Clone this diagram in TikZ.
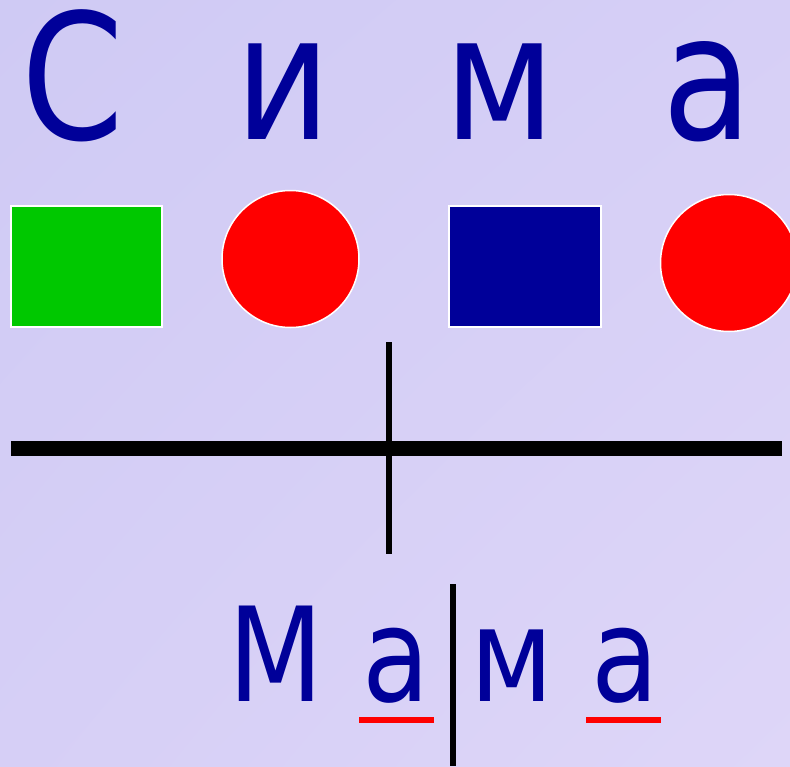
\documentclass[tikz,border=0pt]{standalone}
\usepackage{fontspec}
\setmainfont[FakeStretch=0.84]{DejaVu Sans}
\usetikzlibrary{shadings}
\definecolor{ink}{RGB}{0,0,153}
\definecolor{grn}{RGB}{0,200,0}
\definecolor{bgA}{RGB}{207,202,244}
\definecolor{bgB}{RGB}{214,207,246}
\definecolor{bgC}{RGB}{222,214,248}
\tikzset{
  bigletter/.style={inner sep=0pt, anchor=base, text=ink, font=\fontsize{175}{175}\selectfont},
  smallletter/.style={inner sep=0pt, anchor=base, text=ink, font=\fontsize{131}{131}\selectfont},
  sqbox/.style={rectangle, draw=white, line width=1.5pt, inner sep=0pt, minimum width=151pt, minimum height=121pt},
  dot/.style={circle, draw=white, line width=1.5pt, fill=red, inner sep=0pt, minimum size=137pt},
  underl/.style={red, line width=6pt},
}
\begin{document}
\begin{tikzpicture}[x=1pt,y=-1pt]
\useasboundingbox (0,0) rectangle (790,766);
\clip (0,0) rectangle (790,766);
\shade[upper left=bgA, upper right=bgB, lower left=bgB, lower right=bgC] (0,0) rectangle (790,766);
% top word
\node[bigletter] (s1) at (73,139) {С};
\node[bigletter] (s2) at (283,139) {и};
\node[bigletter] (s3) at (500,139) {м};
\node[bigletter] (s4) at (708,139) {а};
% shapes
\node[sqbox, fill=grn] (g) at (86.5,266.5) {};
\node[dot] (r1) at (290.5,259) {};
\node[sqbox, fill=ink, minimum width=152pt] (b) at (525,266.5) {};
\node[dot] (r2) at (729,263) {};
% cross
\coordinate (hl) at (11,448);
\coordinate (hr) at (782,448);
\coordinate (vt) at (389,342);
\coordinate (vb) at (389,554);
\draw[line width=15pt] (hl) -- (hr);
\draw[line width=6pt] (vt) -- (vb);
% bottom word
\node[smallletter] (m1) at (275.5,701) {М};
\node[smallletter] (a1) at (396.5,701) {а};
\node[smallletter] (m2) at (512,701) {м};
\node[smallletter] (a2) at (625,701) {а};
\coordinate (dt) at (452.5,584);
\coordinate (db) at (452.5,766);
\draw[line width=6pt] (dt) -- (db);
\coordinate (u1l) at (359,720);
\coordinate (u1r) at (434,720);
\coordinate (u2l) at (586,720);
\coordinate (u2r) at (661,720);
\draw[underl] (u1l) -- (u1r);
\draw[underl] (u2l) -- (u2r);
\end{tikzpicture}
\end{document}
